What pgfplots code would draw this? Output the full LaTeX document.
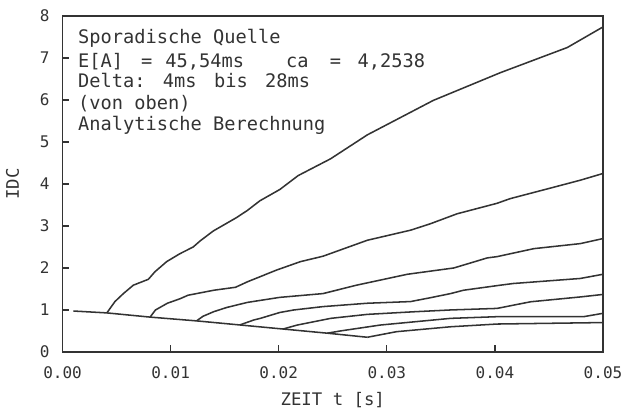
\documentclass[border=0pt]{standalone}
\usepackage{fontspec}
\setmainfont{DejaVu Sans Mono}
\usepackage{pgfplots}
\pgfplotsset{compat=1.18}
\definecolor{ink}{gray}{0.2}
\begin{document}
\begin{tikzpicture}
\begin{axis}[
  scale only axis, width=405.4pt, height=252pt,
  xmin=0, xmax=0.05, ymin=0, ymax=8,
  xtick={0,0.01,0.02,0.03,0.04,0.05},
  xticklabels={0.00,0.01,0.02,0.03,0.04,0.05},
  ytick={0,1,2,3,4,5,6,7,8},
  yticklabels={0,1,2,3,4,5,6,7,8},
  scaled x ticks=false,
  tick align=inside, major tick length=5pt, tick pos=left,
  axis line style={line width=1pt, ink},
  tick style={line width=1pt, ink},
  xticklabel style={anchor=base, yshift=-19.7pt, inner sep=0pt, font=\fontsize{12}{14}\selectfont, text=ink},
  yticklabel style={anchor=east, xshift=-9.5pt, inner sep=0pt, font=\fontsize{12}{14}\selectfont, text=ink},
  xlabel={ZEIT t [s]},
  ylabel={IDC},
  xlabel style={at={(axis description cs:0.5,-0.1607)}, anchor=base, inner sep=0pt, font=\fontsize{13}{16}\selectfont, text=ink},
  ylabel style={at={(axis description cs:-0.0925,0.5)}, anchor=center, inner sep=0pt, font=\fontsize{13}{16}\selectfont, text=ink},
  every axis plot post/.append style={ink, line width=1.15pt, mark=none, solid},
]
% baseline
\addplot coordinates {(0.0010,0.975) (0.0041,0.93) (0.0081,0.83) (0.0124,0.74) (0.0164,0.643) (0.0204,0.546) (0.0245,0.447) (0.0282,0.35)};
% Delta = 4 ms
\addplot coordinates {(0.0041,0.93) (0.00485,1.2) (0.00563,1.39) (0.00655,1.59) (0.00794,1.73) (0.00855,1.91) (0.00963,2.15) (0.01086,2.34) (0.01209,2.5) (0.01271,2.64) (0.01394,2.88) (0.0161,3.2) (0.0171,3.37) (0.01826,3.6) (0.02011,3.87) (0.0218,4.2) (0.0248,4.6) (0.0282,5.17) (0.0343,5.99) (0.0405,6.65) (0.0467,7.25) (0.05,7.74)};
% Delta = 8 ms
\addplot coordinates {(0.0081,0.83) (0.0086,1.0) (0.0097,1.16) (0.0109,1.27) (0.0116,1.35) (0.0140,1.47) (0.0160,1.54) (0.0171,1.67) (0.0198,1.95) (0.0220,2.15) (0.0241,2.28) (0.0282,2.66) (0.0322,2.90) (0.0340,3.05) (0.0365,3.29) (0.0402,3.54) (0.0414,3.65) (0.0454,3.92) (0.0479,4.09) (0.05,4.25)};
% Delta = 12 ms
\addplot coordinates {(0.0124,0.74) (0.013,0.85) (0.014,0.96) (0.0152,1.06) (0.0171,1.18) (0.0201,1.3) (0.0241,1.39) (0.0272,1.59) (0.0319,1.85) (0.0362,2.0) (0.0393,2.24) (0.0402,2.27) (0.0436,2.46) (0.0479,2.58) (0.05,2.70)};
% Delta = 16 ms
\addplot coordinates {(0.0164,0.643) (0.01768,0.76) (0.0183,0.8) (0.0201,0.94) (0.0214,1.0) (0.0241,1.08) (0.0282,1.16) (0.0322,1.2) (0.034,1.29) (0.0359,1.39) (0.0371,1.47) (0.0405,1.59) (0.0417,1.63) (0.0479,1.75) (0.05,1.85)};
% Delta = 20 ms
\addplot coordinates {(0.0204,0.546) (0.0217,0.64) (0.0248,0.80) (0.0282,0.895) (0.0325,0.957) (0.0359,1.0) (0.0402,1.037) (0.0433,1.195) (0.0479,1.31) (0.05,1.37)};
% Delta = 24 ms
\addplot coordinates {(0.0245,0.447) (0.0257,0.5) (0.0294,0.641) (0.0359,0.80) (0.0402,0.84) (0.0482,0.84) (0.05,0.92)};
% Delta = 28 ms
\addplot coordinates {(0.0282,0.35) (0.0309,0.483) (0.0359,0.60) (0.0402,0.665) (0.05,0.70)};
\begin{scope}[every node/.style={anchor=base west, inner sep=0pt, font=\fontsize{14}{16}\selectfont, text=ink}]
\node at (axis cs:0.00143,7.35) {Sporadische Quelle};
\node at (axis cs:0.00143,6.78) {E[A]\hspace{13.5pt}=\hspace{9.75pt}45,54ms\hspace{31.5pt}ca\hspace{16pt}=\hspace{12.4pt}4,2538};
\node at (axis cs:0.00143,6.29) {Delta:\hspace{13pt}4ms\hspace{13pt}bis\hspace{13pt}28ms};
\node at (axis cs:0.00143,5.77) {(von oben)};
\node at (axis cs:0.00143,5.27) {Analytische Berechnung};
\end{scope}
\end{axis}
\pgfresetboundingbox
\path[use as bounding box] ([xshift=-46.9pt,yshift=-45pt]current axis.south west) rectangle ([xshift=18pt,yshift=12pt]current axis.north east);
\end{tikzpicture}
\end{document}
